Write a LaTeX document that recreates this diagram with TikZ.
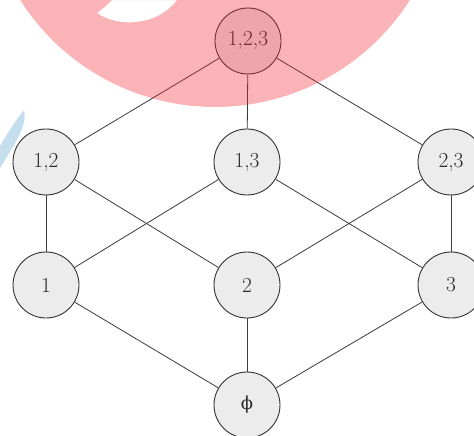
\documentclass[tikz,border=0pt]{standalone}
\usepackage{fontspec}
\newfontfamily\greekfont{DejaVu Serif}
\usetikzlibrary{positioning}
\definecolor{nodefill}{HTML}{ECECEC}
\definecolor{nodeline}{HTML}{333333}
\definecolor{nodetext}{HTML}{2A2A2A}
\definecolor{edgecol}{HTML}{3A3A3A}
\definecolor{wmred}{RGB}{240,40,50}
\definecolor{wmblue}{HTML}{C4DEEE}
\tikzset{
  setnode/.style={circle, draw=nodeline, fill=nodefill, line width=0.9bp,
    minimum size=66bp, inner sep=0pt, text=nodetext,
    font=\fontsize{21.5}{24}\selectfont},
  edge/.style={draw=edgecol, line width=0.8bp},
}
\begin{document}
\begin{tikzpicture}[x=1bp, y=-1bp]
\useasboundingbox (0,0) rectangle (474,436);
% faint background watermark (blue crescent)
\fill[wmblue] (24,110) .. controls (28,124) and (16,142) .. (0,168)
  -- (0,146) .. controls (8,132) and (16,120) .. cycle;
% nodes
\node[setnode] (n123) at (248,41) {1,2,3};
\node[setnode] (n12) at (46,162) {1,2};
\node[setnode] (n13) at (247,162) {1,3};
\node[setnode] (n23) at (451,162) {2,3};
\node[setnode] (n1) at (46,285) {1};
\node[setnode] (n2) at (247,285) {2};
\node[setnode] (n3) at (451,285) {3};
\node[setnode] (n0) at (247,405) {{\greekfont\fontsize{18}{20}\selectfont ϕ}};
% edges
\path[edge] (n123) -- (n12);
\path[edge] (n123) -- (n13);
\path[edge] (n123) -- (n23);
\path[edge] (n12) -- (n1);
\path[edge] (n12) -- (n2);
\path[edge] (n13) -- (n1);
\path[edge] (n13) -- (n3);
\path[edge] (n23) -- (n2);
\path[edge] (n23) -- (n3);
\path[edge] (n1) -- (n0);
\path[edge] (n2) -- (n0);
\path[edge] (n3) -- (n0);
% red watermark overlay
\fill[wmred, opacity=0.35, even odd rule]
  plot[domain=147.5:32.5, samples=60] ({215+231*cos(\x)},{-124+231*sin(\x)}) -- cycle
  (97,13) .. controls (118,28) and (158,26) .. (177,0) -- (112,0) .. controls (106,6) .. cycle;
\end{tikzpicture}
\end{document}
